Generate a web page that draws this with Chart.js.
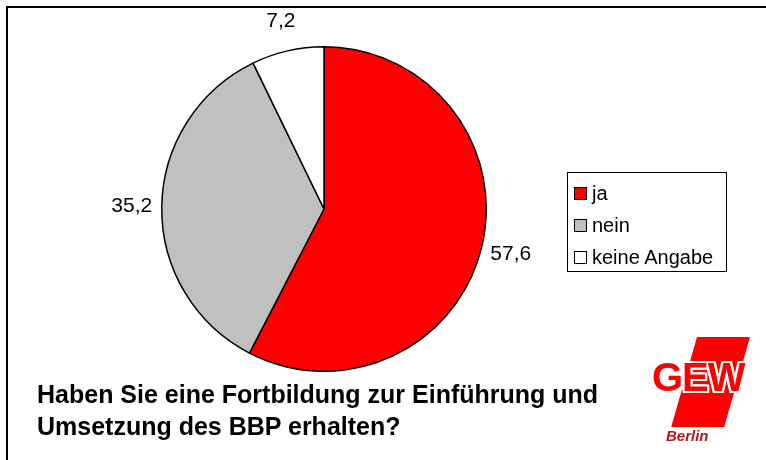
<!DOCTYPE html>
<html>
<head>
<meta charset="utf-8">
<script src="https://cdn.jsdelivr.net/npm/chart.js@4/dist/chart.umd.min.js"></script>
<style>
  html, body { margin: 0; padding: 0; background: #fff; }
  body { width: 766px; height: 460px; position: relative; overflow: hidden; font-family: "Liberation Sans", Arial, sans-serif; }
  #frame { position: absolute; left: 6px; top: 6px; width: 820px; height: 520px; border-top: 2px solid #000; border-left: 2px solid #000; }
  #wrap { position: absolute; left: 0; top: 0; width: 766px; height: 460px; }
  #legend { position: absolute; left: 567px; top: 172px; width: 160px; height: 100px; border: 1.5px solid #000; box-sizing: border-box; padding-top: 4px; }
  .item { height: 32px; display: flex; align-items: center; font-size: 20px; color: #000; padding-left: 6px; }
  .sw { width: 11px; height: 11px; border: 1.5px solid #000; margin-right: 5px; }
  #title { position: absolute; left: 37px; top: 378px; font-size: 25px; font-weight: bold; line-height: 32px; color: #000; }
  #logo { position: absolute; left: 640px; top: 330px; width: 126px; height: 130px; }
  #logo .bar { position: absolute; left: 57px; top: 7px; width: 53px; height: 90px; background: #ff0000; transform: skewX(-16deg); transform-origin: 0 0; }
  #logo .gew { position: absolute; left: 12px; top: 25px; font-size: 40px; font-weight: bold; color: #ff0000; letter-spacing: -1px; transform-origin: 0 0;
    text-shadow: 2px 0 #fff, -2px 0 #fff, 0 2px #fff, 0 -2px #fff, 2px 2px #fff, -2px -2px #fff, 2px -2px #fff, -2px 2px #fff; }
  #logo .berlin { position: absolute; left: 26px; top: 97px; font-size: 15px; font-weight: bold; font-style: italic; color: #b01818; }
</style>
</head>
<body>
<div id="frame"></div>
<div id="wrap"><canvas id="chart" width="766" height="460"></canvas></div>
<div id="legend"></div>
<div id="title">Haben Sie eine Fortbildung zur Einführung und<br>Umsetzung des BBP erhalten?</div>
<div id="logo"><div class="bar"></div><div class="gew">GEW</div><div class="berlin">Berlin</div></div>
<script>
const labels = ['ja', 'nein', 'keine Angabe'];
const values = [57.6, 35.2, 7.2];
const colors = ['#ff0000', '#c0c0c0', '#ffffff'];

const legendEl = document.getElementById('legend');
labels.forEach((label, i) => {
  const row = document.createElement('div');
  row.className = 'item';
  const sw = document.createElement('span');
  sw.className = 'sw';
  sw.style.background = colors[i];
  row.appendChild(sw);
  row.appendChild(document.createTextNode(label));
  legendEl.appendChild(row);
});

// value labels outside the slices, German decimal comma
const valueLabels = {
  id: 'valueLabels',
  afterDatasetsDraw(chart) {
    const { ctx } = chart;
    const meta = chart.getDatasetMeta(0);
    ctx.save();
    ctx.font = '21px "Liberation Sans", Arial, sans-serif';
    ctx.fillStyle = '#000';
    ctx.textAlign = 'center';
    ctx.textBaseline = 'middle';
    meta.data.forEach((arc, i) => {
      const { startAngle, endAngle, x, y, outerRadius } = arc.getProps(['startAngle', 'endAngle', 'x', 'y', 'outerRadius'], true);
      const mid = (startAngle + endAngle) / 2;
      const r = outerRadius + 30;
      const text = values[i].toFixed(1).replace('.', ',');
      ctx.fillText(text, x + Math.cos(mid) * r, y + Math.sin(mid) * r);
    });
    ctx.restore();
  },
};

new Chart(document.getElementById('chart'), {
  type: 'pie',
  data: {
    labels,
    datasets: [{
      data: values,
      backgroundColor: colors,
      borderColor: '#000',
      borderWidth: 1.5,
    }],
  },
  options: {
    responsive: false,
    animation: false,
    layout: { padding: { left: 161, top: 46, right: 279, bottom: 88 } },
    plugins: {
      legend: { display: false },
      tooltip: { enabled: false },
    },
  },
  plugins: [valueLabels],
});
</script>
</body>
</html>
